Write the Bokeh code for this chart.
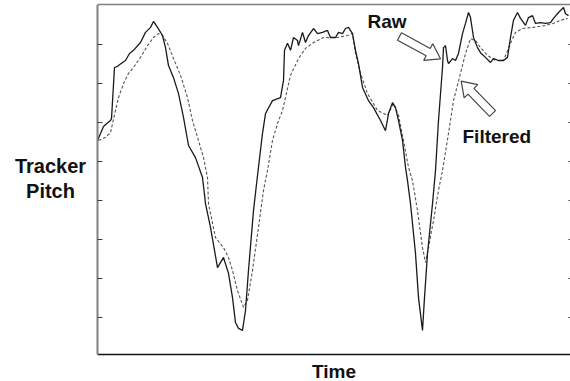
import math
from bokeh.plotting import figure
from bokeh.models import LinearAxis, FixedTicker, Range1d, Label, PolyAnnotation, CustomJSTickFormatter
from bokeh.embed import file_html
from bokeh.resources import INLINE

# ---- data (time units, pitch units) ----
time_raw = [0, 3, 6, 9, 13, 14, 17, 20, 25, 28, 32, 36, 43, 48, 53, 56, 60, 65, 68, 71, 76, 81, 86, 91,
            98, 105, 108, 113, 120, 126, 131, 135, 138, 141, 145, 148, 151, 156, 160, 165, 168, 175,
            183, 186, 187, 190, 193, 196, 200, 201, 205, 208, 211, 216, 220, 225, 230, 233, 238, 241,
            245, 248, 251, 255, 258, 261, 265, 271, 276, 283, 288, 291, 295, 298, 301, 305, 308, 310,
            313, 318, 321, 325, 327, 330, 335, 338, 341, 345, 346, 348, 350, 351, 355, 358, 361, 365,
            368, 371, 373, 376, 380, 383, 388, 393, 396, 401, 406, 410, 413, 416, 420, 423, 428, 431,
            435, 438, 443, 448, 453, 456, 461, 466, 468, 471]
pitch_raw = [5.54, 5.72, 5.90, 5.97, 6.05, 6.10, 7.41, 7.44, 7.54, 7.59, 7.77, 7.85, 8.05, 8.31, 8.44,
             8.59, 8.44, 8.23, 7.92, 7.46, 7.15, 6.74, 6.13, 5.41, 5.10, 4.59, 3.92, 3.31, 2.28, 2.54,
             2.13, 1.51, 0.87, 0.72, 0.67, 1.18, 2.21, 3.74, 4.64, 5.72, 6.23, 6.56, 6.64, 7.08, 7.85,
             8.03, 7.85, 8.18, 8.10, 7.97, 8.31, 8.05, 8.23, 8.41, 8.28, 8.31, 8.36, 8.18, 8.18, 8.31,
             8.28, 8.41, 8.44, 8.28, 7.85, 7.51, 6.90, 6.56, 6.38, 6.05, 5.79, 6.23, 6.51, 6.38, 6.05,
             5.54, 4.85, 4.51, 3.92, 2.64, 1.51, 0.67, 1.51, 2.64, 3.92, 4.77, 6.05, 7.41, 7.92, 7.97,
             7.59, 7.51, 7.64, 7.59, 7.77, 8.28, 8.54, 8.82, 8.69, 8.18, 7.92, 7.79, 7.67, 7.54, 7.64,
             7.59, 7.59, 7.67, 8.18, 8.62, 8.82, 8.67, 8.49, 8.69, 8.74, 8.54, 8.56, 8.54, 8.56, 8.67,
             8.82, 8.95, 8.79, 8.74]

time_filt = [1, 8, 13, 18, 21, 26, 31, 36, 43, 50, 56, 61, 65, 70, 76, 83, 90, 95, 100, 106, 110, 111,
             118, 126, 131, 135, 140, 146, 150, 155, 161, 166, 170, 175, 180, 185, 188, 193, 201, 208,
             216, 226, 240, 250, 255, 258, 263, 270, 280, 290, 296, 301, 306, 311, 315, 320, 325, 328,
             331, 336, 341, 345, 351, 356, 363, 368, 373, 378, 383, 390, 398, 406, 413, 418, 425, 436,
             448, 456, 463, 470]
pitch_filt = [5.54, 5.62, 5.74, 6.31, 6.64, 7.00, 7.26, 7.41, 7.67, 7.97, 8.18, 8.28, 8.23, 8.03, 7.64,
              7.21, 6.64, 6.05, 5.62, 5.10, 4.59, 3.92, 3.05, 2.79, 2.54, 2.21, 1.69, 1.26, 1.44, 2.21,
              3.31, 4.26, 4.77, 5.54, 5.97, 6.31, 6.64, 7.21, 7.64, 7.90, 8.05, 8.18, 8.18, 8.23, 8.28,
              7.77, 7.26, 6.74, 6.31, 6.18, 6.49, 6.18, 5.54, 4.85, 4.51, 3.74, 2.79, 2.41, 2.79, 3.49,
              4.26, 4.77, 5.72, 6.56, 7.26, 7.77, 8.15, 8.10, 7.92, 7.72, 7.59, 7.59, 8.03, 8.31, 8.41,
              8.44, 8.49, 8.54, 8.62, 8.67]

tick_values = [1, 2, 3, 4, 5, 6, 7, 8]
series_labels = ["Raw", "Filtered"]
x_label = "Time"
y_label = "Tracker\nPitch"

FONT = "Liberation Sans"
PX_X = 1.0    # pixels per time unit
PX_Y = 39.0   # pixels per pitch unit

T_MIN, T_MAX = 0, 473            # time span of the plotting box
P_MIN = 1 - 37 / 39              # pitch at the bottom of the plotting box
P_MAX = 1 + 313 / 39             # pitch at the top of the plotting box

p = figure(width=570, height=381,
           x_range=Range1d(T_MIN - 97, T_MAX), y_range=Range1d(1 - 64 / 39, P_MAX),
           output_backend="svg", toolbar_location=None,
           min_border_left=0, min_border_right=0, min_border_top=4, min_border_bottom=0,
           x_axis_location="below", y_axis_location="left")
p.background_fill_color = "white"
p.border_fill_color = "white"
p.xgrid.visible = False
p.ygrid.visible = False
p.outline_line_color = None

xa = p.below[0]
ya = p.left[0]

blank = CustomJSTickFormatter(code="return '';")

# bottom axis line
xa.fixed_location = P_MIN
xa.bounds = (T_MIN, T_MAX)
xa.ticker = FixedTicker(ticks=[])
xa.axis_line_color = "#111111"
xa.axis_line_width = 1.5
xa.major_tick_out = 0
xa.major_tick_in = 0
xa.minor_tick_out = 0
xa.minor_tick_in = 0
xa.major_label_standoff = 0
xa.axis_label_standoff = 0

# left axis with inward ticks
ya.fixed_location = T_MIN
ya.bounds = (P_MIN, P_MAX)
ya.ticker = FixedTicker(ticks=tick_values)
ya.formatter = blank
ya.axis_line_color = "#808080"
ya.axis_line_width = 2
ya.major_tick_in = 5
ya.major_tick_out = 0
ya.minor_tick_in = 0
ya.minor_tick_out = 0
ya.major_tick_line_color = "#404040"
ya.major_label_standoff = 0
ya.axis_label_standoff = 0

# top border line
ta = LinearAxis(ticker=FixedTicker(ticks=[]), bounds=(T_MIN, T_MAX),
                axis_line_color="#808080", axis_line_width=1.5,
                major_tick_in=0, major_tick_out=0, minor_tick_in=0, minor_tick_out=0,
                major_label_standoff=0, axis_label_standoff=0)
p.add_layout(ta, "above")

# right axis (ticks only)
ra = LinearAxis(ticker=FixedTicker(ticks=tick_values), formatter=blank, axis_line_color=None,
                major_tick_in=2, major_tick_out=0, minor_tick_in=0, minor_tick_out=0,
                major_tick_line_color="#404040", major_label_standoff=0, axis_label_standoff=0)
p.add_layout(ra, "right")

# data lines
p.line(time_filt, pitch_filt, line_color="#555555", line_width=1.1, line_dash="3 2")
p.line(time_raw, pitch_raw, line_color="#1a1a1a", line_width=1.3)


def block_arrow(tail, tip, shaft_half=4.2, head_half=9.5, head_len=14.0):
    tx, ty = tail[0] * PX_X, tail[1] * PX_Y
    hx, hy = tip[0] * PX_X, tip[1] * PX_Y
    dx, dy = hx - tx, hy - ty
    d = math.hypot(dx, dy)
    ux, uy = dx / d, dy / d
    nx, ny = -uy, ux
    bx, by = hx - ux * head_len, hy - uy * head_len
    pts = [
        (tx + nx * shaft_half, ty + ny * shaft_half),
        (bx + nx * shaft_half, by + ny * shaft_half),
        (bx + nx * head_half, by + ny * head_half),
        (hx, hy),
        (bx - nx * head_half, by - ny * head_half),
        (bx - nx * shaft_half, by - ny * shaft_half),
        (tx - nx * shaft_half, ty - ny * shaft_half),
    ]
    return [x / PX_X for x, _ in pts], [y / PX_Y for _, y in pts]


for tail, tip in [((302, 8.205), (343, 7.633)), ((395, 6.231), (363.7, 7.059))]:
    xs, ys = block_arrow(tail, tip)
    p.add_layout(PolyAnnotation(xs=xs, ys=ys, fill_color="white", fill_alpha=1.0,
                                line_color="#444444", line_alpha=1.0, line_width=1.2))

label_style = dict(text_font=FONT, text_font_style="bold", text_color="#111111")
p.add_layout(Label(x=270, y=8.59, text=series_labels[0], text_font_size="19px",
                   text_baseline="alphabetic", **label_style))
p.add_layout(Label(x=365, y=5.65, text=series_labels[1], text_font_size="19px",
                   text_baseline="alphabetic", **label_style))
# axis titles
p.add_layout(Label(x=(T_MIN + T_MAX) / 2, y=1 - 54 / 39, text=x_label, text_font_size="19px",
                   text_align="center", text_baseline="alphabetic", **label_style))
p.add_layout(Label(x=-47, y=1 + 139 / 39, text=y_label, text_font_size="20px",
                   text_align="center", text_baseline="middle", text_line_height=1.1,
                   **label_style))

open("out.html", "w").write(file_html(p, INLINE))
